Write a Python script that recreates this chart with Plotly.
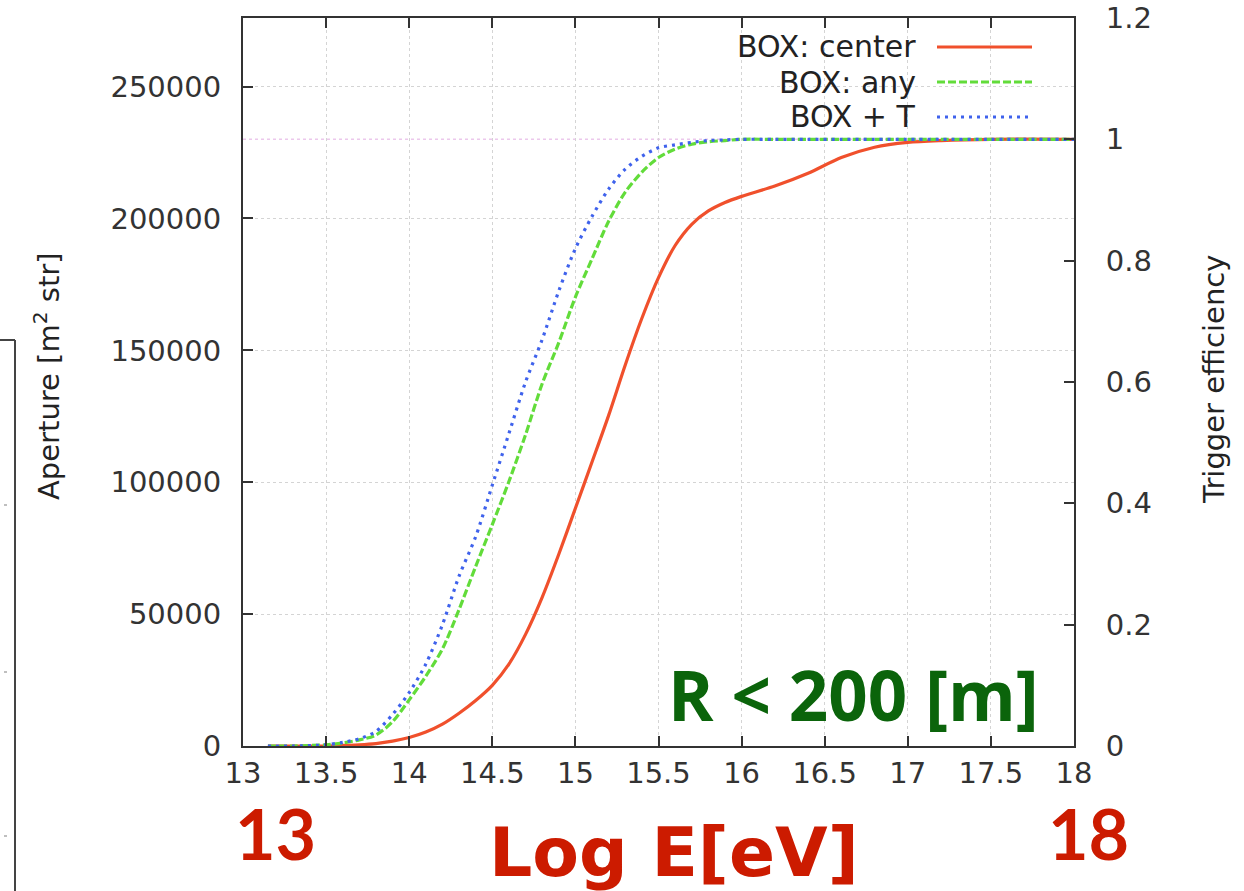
import plotly.graph_objects as go

# ---- data ----
log_e = [13.15, 13.3, 13.5, 13.6, 13.7, 13.8, 13.9, 14.0, 14.1, 14.2, 14.3, 14.4,
         14.5, 14.6, 14.7, 14.8, 14.9, 15.0, 15.1, 15.2, 15.3, 15.4, 15.5, 15.6,
         15.7, 15.8, 15.9, 16.0, 16.2, 16.4, 16.6, 16.8, 17.0, 17.2, 17.5, 18.0]

eff_center = [0.0, 0.0, 0.0, 0.001, 0.002, 0.004, 0.008, 0.014, 0.023, 0.036, 0.054, 0.075,
              0.100, 0.135, 0.184, 0.245, 0.316, 0.392, 0.468, 0.545, 0.628, 0.705, 0.772, 0.825,
              0.860, 0.882, 0.896, 0.906, 0.923, 0.944, 0.970, 0.987, 0.995, 0.998, 1.0, 1.0]

eff_any = [0.0, 0.0, 0.002, 0.005, 0.010, 0.018, 0.040, 0.076, 0.115, 0.160, 0.225, 0.296,
           0.365, 0.436, 0.513, 0.597, 0.665, 0.740, 0.803, 0.865, 0.913, 0.946, 0.970, 0.984,
           0.992, 0.996, 0.998, 1.0, 1.0, 1.0, 1.0, 1.0, 1.0, 1.0, 1.0, 1.0]

eff_box_t = [0.0, 0.0, 0.002, 0.006, 0.012, 0.024, 0.052, 0.088, 0.135, 0.200, 0.280, 0.345,
             0.430, 0.515, 0.600, 0.670, 0.750, 0.820, 0.873, 0.918, 0.951, 0.972, 0.986, 0.991,
             0.995, 0.998, 0.999, 1.0, 1.0, 1.0, 1.0, 1.0, 1.0, 1.0, 1.0, 1.0]

series_names = ["BOX: center", "BOX: any", "BOX + T"]
series_colors = ["#f0502c", "#62dc3a", "#3f62ec"]
series_dash = ["solid", "8px,3px", "3px,5px"]

aperture_ticks = [0, 50000, 100000, 150000, 200000, 250000]
eff_ticks = [0, 0.2, 0.4, 0.6, 0.8, 1.0, 1.2]
eff_tick_labels = ["0", "0.2", "0.4", "0.6", "0.8", "1", "1.2"]
x_ticks = [13, 13.5, 14, 14.5, 15, 15.5, 16, 16.5, 17, 17.5, 18]
full_aperture = 230000  # aperture at efficiency 1

W, H = 1244, 891
L, R, T, B = 243, 170, 18, 145
pw, ph = W - L - R, H - T - B


def px_x(p):
    return (p - L) / pw


def px_y(p):
    return (H - B - p) / ph


fig = go.Figure()
# invisible copy on the aperture axis so that the left axis is drawn
fig.add_trace(go.Scatter(x=log_e, y=[v * full_aperture for v in eff_center], yaxis="y",
                         mode="lines", line=dict(width=0, color="rgba(0,0,0,0)"),
                         hoverinfo="skip", showlegend=False))
for name, vals, col, dsh in zip(series_names, [eff_center, eff_any, eff_box_t],
                                series_colors, series_dash):
    fig.add_trace(go.Scatter(x=log_e, y=vals, name=name, yaxis="y2", mode="lines",
                             line=dict(color=col, width=3.2, dash=dsh,
                                       shape="spline", smoothing=0.8),
                             showlegend=False))

FONT = "DejaVu Sans, Liberation Sans, Arial, sans-serif"
tick_font = dict(family=FONT, size=29, color="#333333")
axis_line = dict(showline=True, linecolor="#333333", linewidth=2, automargin=False)

fig.update_layout(
    width=W, height=H, autosize=False, showlegend=False,
    margin=dict(l=L, r=R, t=T, b=B, autoexpand=False),
    paper_bgcolor="white", plot_bgcolor="white",
    xaxis=dict(range=[13, 18], tickvals=x_ticks, ticks="inside", ticklen=10, tickwidth=2,
               tickcolor="#333333", mirror="ticks", showgrid=True, griddash="dot",
               gridcolor="#d4d4d4", gridwidth=1, zeroline=False, tickfont=tick_font,
               **axis_line),
    yaxis=dict(range=[0, 1.2 * full_aperture], tickvals=aperture_ticks, tickformat="d",
               ticks="inside", ticklen=10, tickwidth=2, tickcolor="#333333",
               showgrid=True, griddash="dot", gridcolor="#d4d4d4", gridwidth=1,
               zeroline=False, tickfont=tick_font, ticklabelstandoff=14, **axis_line),
    yaxis2=dict(range=[0, 1.2], tickvals=eff_ticks, ticktext=eff_tick_labels,
                overlaying="y", side="right", ticks="inside", ticklen=10, tickwidth=2,
                tickcolor="#333333", showgrid=False, zeroline=False, tickfont=tick_font,
                ticklabelstandoff=24, **axis_line),
)

# efficiency = 1 reference line (light pink dotted)
fig.add_shape(type="line", xref="x domain", x0=0, x1=1, yref="y2", y0=1, y1=1,
              line=dict(color="#ecc8ec", width=1.5, dash="dot"), layer="below")

# axis titles
title_font = dict(family=FONT, size=29, color="#222222")
fig.add_annotation(text="Aperture [m<sup>2</sup> str]", textangle=-90, xref="paper", yref="paper",
                   x=px_x(47), y=px_y(376), xanchor="center", yanchor="middle",
                   showarrow=False, font=title_font)
fig.add_annotation(text="Trigger efficiency", textangle=-90, xref="paper", yref="paper",
                   x=px_x(1214), y=px_y(380), xanchor="center", yanchor="middle",
                   showarrow=False, font=title_font)

# legend (text right-aligned, sample lines to the right)
leg_font = dict(family=FONT, size=30, color="#222222")
leg_rows = [47, 82, 117]
for name, col, dsh, yy in zip(series_names, series_colors, series_dash, leg_rows):
    fig.add_annotation(text=name, xref="paper", yref="paper", x=px_x(918), y=px_y(yy),
                       xanchor="right", yanchor="middle", showarrow=False, font=leg_font)
    fig.add_shape(type="line", xref="paper", yref="paper", x0=px_x(937), x1=px_x(1032),
                  y0=px_y(yy), y1=px_y(yy), line=dict(color=col, width=3.2, dash=dsh))

# overlay annotations
red = "#cc1b00"
num_font = dict(family="Lato, Noto Sans, sans-serif", size=70, color=red, weight="bold")
fig.add_annotation(text="13", xref="paper", yref="paper", x=px_x(275), y=px_y(833),
                   xanchor="center", yanchor="middle", showarrow=False, font=num_font)
fig.add_annotation(text="18", xref="paper", yref="paper", x=px_x(1088), y=px_y(833),
                   xanchor="center", yanchor="middle", showarrow=False, font=num_font)
fig.add_annotation(text="Log E[eV]", xref="paper", yref="paper", x=px_x(674), y=px_y(852),
                   xanchor="center", yanchor="middle", showarrow=False,
                   font=dict(family="DejaVu Sans, sans-serif", size=68, color=red,
                             weight="bold"))
fig.add_annotation(text="R &lt; 200 [m]", xref="paper", yref="paper", x=px_x(853), y=px_y(694),
                   xanchor="center", yanchor="middle", showarrow=False,
                   font=dict(family="Open Sans, Noto Sans, sans-serif", size=69,
                             color="#0b640b", weight="bold"))

# partial frame of a neighbouring panel at the far left edge
fig.add_shape(type="line", xref="paper", yref="paper", x0=px_x(0), x1=px_x(15),
              y0=px_y(340), y1=px_y(340), line=dict(color="#444444", width=2))
fig.add_shape(type="line", xref="paper", yref="paper", x0=px_x(15), x1=px_x(15),
              y0=px_y(340), y1=px_y(891), line=dict(color="#444444", width=2))
for yy in [505, 672, 836]:
    fig.add_shape(type="line", xref="paper", yref="paper", x0=px_x(4), x1=px_x(9),
                  y0=px_y(yy), y1=px_y(yy), line=dict(color="#aaaaaa", width=1.5, dash="dot"))

fig.write_html(
    "out.html",
    config={"displayModeBar": False},
    post_script=("document.body.style.margin='0px';"
                 "var gd=document.getElementById('{plot_id}');"
                 "gd.style.position='absolute';gd.style.left='0px';gd.style.top='0px';"),
)
